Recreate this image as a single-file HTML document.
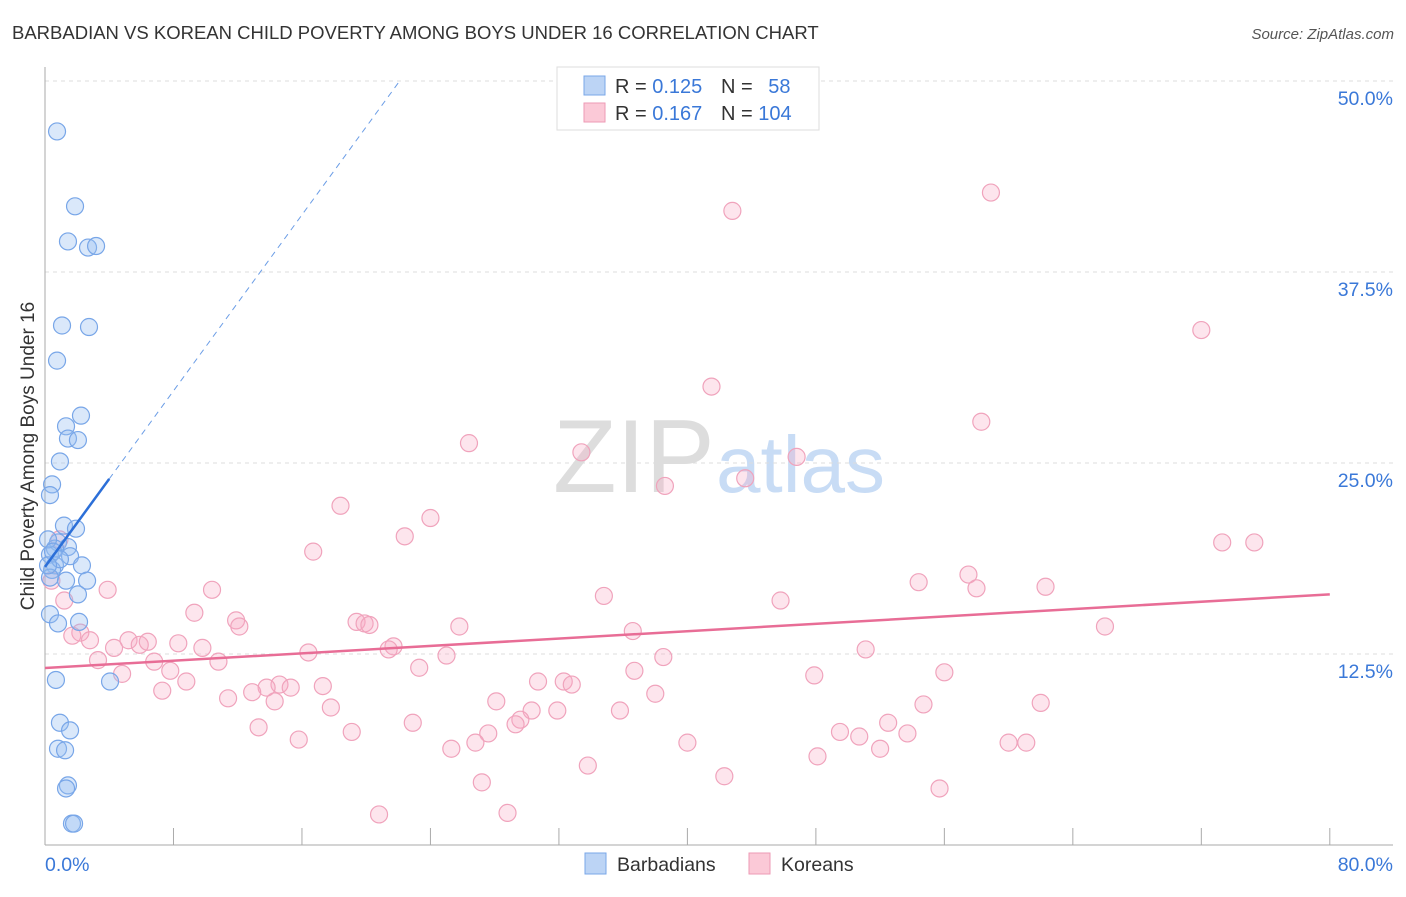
<!DOCTYPE html>
<html><head><meta charset="utf-8"><style>
body{margin:0;background:#fff;font-family:"Liberation Sans",sans-serif;}
svg text{font-family:"Liberation Sans",sans-serif;}
</style></head><body>
<svg id="chart" width="1406" height="892" viewBox="0 0 1406 892">
<text x="12" y="39" font-size="18.5" fill="#333">BARBADIAN VS KOREAN CHILD POVERTY AMONG BOYS UNDER 16 CORRELATION CHART</text>
<text x="1394" y="39" font-size="15" fill="#555" text-anchor="end" font-style="italic">Source: ZipAtlas.com</text>
<text transform="translate(34,456) rotate(-90)" font-size="19" fill="#333" text-anchor="middle">Child Poverty Among Boys Under 16</text>
<g><text x="553" y="492" font-size="104" fill="#ddd" font-family="Liberation Serif">ZIP</text><text x="716" y="492" font-size="80" fill="#c8dcf5">atlas</text></g>
<g id="grid"></g><g id="pts"></g><g id="lines"></g>
<g>
<rect x="557" y="67" width="262" height="63" fill="#fff" stroke="#ddd"/>
<rect x="584" y="76" width="21" height="19" fill="#bcd4f5" stroke="#7aa7e8"/>
<rect x="584" y="103" width="21" height="19" fill="#fbc9d7" stroke="#ee9ab4"/>
<text x="615" y="93" font-size="20" fill="#333">R = <tspan fill="#3a78d8">0.125</tspan></text>
<text x="721" y="93" font-size="20" fill="#333">N = <tspan fill="#3a78d8" dx="10">58</tspan></text>
<text x="615" y="120" font-size="20" fill="#333">R = <tspan fill="#3a78d8">0.167</tspan></text>
<text x="721" y="120" font-size="20" fill="#333">N = <tspan fill="#3a78d8">104</tspan></text>
</g>
<g>
<rect x="585" y="853" width="21" height="21" fill="#bcd4f5" stroke="#7aa7e8"/>
<text x="617" y="871" font-size="19.5" fill="#333">Barbadians</text>
<rect x="749" y="853" width="21" height="21" fill="#fbc9d7" stroke="#ee9ab4"/>
<text x="781" y="871" font-size="19.5" fill="#333">Koreans</text>
</g>
<text x="45" y="871" font-size="19.5" fill="#3a78d8">0.0%</text>
<text x="1393" y="871" font-size="19.5" fill="#3a78d8" text-anchor="end">80.0%</text>
</svg>
<script>
const yTicks=[12.5,25,37.5,50];
const yTickLabels=["12.5%","25.0%","37.5%","50.0%"];
const xTicks=[0,8,16,24,32,40,48,56,64,72,80];
const blueX=[0.75,1.87,1.43,2.68,3.18,1.06,2.74,0.75,2.24,1.31,1.43,2.05,0.93,0.44,0.31,1.18,1.93,0.81,1.43,0.62,0.31,1.56,0.62,2.3,0.44,0.31,1.31,2.62,2.05,0.31,0.81,2.12,0.68,4.05,0.93,1.56,0.81,1.25,1.43,1.31,1.68,1.81,0.19,0.5,0.93,0.19];
const blueY=[46.7,41.8,39.5,39.1,39.2,34.0,33.9,31.7,28.1,27.4,26.6,26.5,25.1,23.6,22.9,20.9,20.7,19.8,19.5,19.4,19.0,18.9,18.3,18.3,18.0,17.5,17.3,17.3,16.4,15.1,14.5,14.6,10.8,10.7,8.0,7.5,6.3,6.2,3.9,3.7,1.4,1.4,20.0,19.2,18.7,18.3];
const pinkX=[58.9,42.8,72.0,41.5,58.3,26.4,33.4,46.8,38.6,43.6,18.4,24.0,22.4,73.3,75.3,16.7,54.4,57.5,58.0,62.3,10.4,3.9,34.8,45.8,9.3,11.9,12.1,19.4,19.9,20.2,25.8,36.6,66.0,2.2,1.7,2.8,5.2,5.9,6.4,8.3,4.3,21.7,21.4,9.8,16.4,25.0,51.1,38.5,3.3,6.8,10.8,7.8,23.3,36.7,4.8,8.8,56.0,47.9,30.7,32.3,32.8,14.6,15.3,13.8,17.3,12.9,7.3,38.0,11.4,28.1,14.3,17.8,35.8,31.9,30.3,62.0,54.7,29.6,29.3,22.9,52.5,13.3,19.1,27.6,49.5,50.7,53.7,15.8,40.0,26.8,60.0,61.1,25.3,52.0,48.1,33.8,42.3,27.2,55.7,20.8,28.8,0.9,0.4,1.2];
const pinkY=[42.7,41.5,33.7,30.0,27.7,26.3,25.7,25.4,23.5,24.0,22.2,21.4,20.2,19.8,19.8,19.2,17.2,17.7,16.8,16.9,16.7,16.7,16.3,16.0,15.2,14.7,14.3,14.6,14.5,14.4,14.3,14.0,14.3,13.9,13.7,13.4,13.4,13.1,13.3,13.2,12.9,13.0,12.8,12.9,12.6,12.4,12.8,12.3,12.1,12.0,12.0,11.4,11.6,11.4,11.2,10.7,11.3,11.1,10.7,10.7,10.5,10.5,10.3,10.3,10.4,10.0,10.1,9.9,9.6,9.4,9.4,9.0,8.8,8.8,8.8,9.3,9.2,8.2,7.9,8.0,8.0,7.7,7.4,7.3,7.4,7.1,7.3,6.9,6.7,6.7,6.7,6.7,6.3,6.3,5.8,5.2,4.5,4.1,3.7,2.0,2.1,20.0,17.3,16.0];
const blueTrend=[18.2,1.44];
const pinkTrend=[11.58,0.0603];
const NS="http://www.w3.org/2000/svg";
const sx=v=>45+v*16.06, sy=v=>845-v*15.28;
function mk(tag,attrs,parent){const e=document.createElementNS(NS,tag);for(const k in attrs)e.setAttribute(k,attrs[k]);parent.appendChild(e);return e;}
const grid=document.getElementById('grid');
yTicks.forEach((t,i)=>{
 const l=mk('line',{x1:45,x2:1393,y1:sy(t),y2:sy(t),stroke:'#ddd','stroke-dasharray':'4,4'},grid);
 
 
 const tx=mk('text',{x:1393,y:sy(t)+24,'font-size':19.5,fill:'#3a78d8','text-anchor':'end'},grid);
 tx.textContent=yTickLabels[i];
 
 
});
const ax=mk('line',{x1:45,x2:45,y1:67,y2:845,stroke:'#aaa'},grid);


const bx=mk('line',{x1:45,x2:1393,y1:845,y2:845,stroke:'#aaa'},grid);


xTicks.forEach(t=>{const l=mk('line',{x1:sx(t),x2:sx(t),y1:828,y2:845,stroke:'#aaa'},grid);
 
 });
const pts=document.getElementById('pts');
pinkX.forEach((x,i)=>{const c=mk('circle',{cx:sx(x),cy:sy(pinkY[i]),r:8.5,fill:'rgba(248,170,195,0.3)',stroke:'#f0a3bc','stroke-width':1.2},pts);
 
 });
blueX.forEach((x,i)=>{const c=mk('circle',{cx:sx(x),cy:sy(blueY[i]),r:8.5,fill:'rgba(150,190,240,0.35)',stroke:'#78a6e8','stroke-width':1.2},pts);
 
 });
const lines=document.getElementById('lines');
const pl=mk('line',{x1:sx(0),y1:sy(pinkTrend[0]),x2:sx(80),y2:sy(pinkTrend[0]+80*pinkTrend[1]),stroke:'#e86d96','stroke-width':2.5},lines);


const xe=(50-blueTrend[0])/blueTrend[1];
const bd=mk('line',{x1:sx(4),y1:sy(blueTrend[0]+4*blueTrend[1]),x2:sx(xe),y2:sy(50),stroke:'#6b9de6','stroke-width':1,'stroke-dasharray':'6,5'},lines);


const bl=mk('line',{x1:sx(0),y1:sy(blueTrend[0]),x2:sx(4),y2:sy(blueTrend[0]+4*blueTrend[1]),stroke:'#2c6fd8','stroke-width':2.5},lines);


</script>
</body></html>
